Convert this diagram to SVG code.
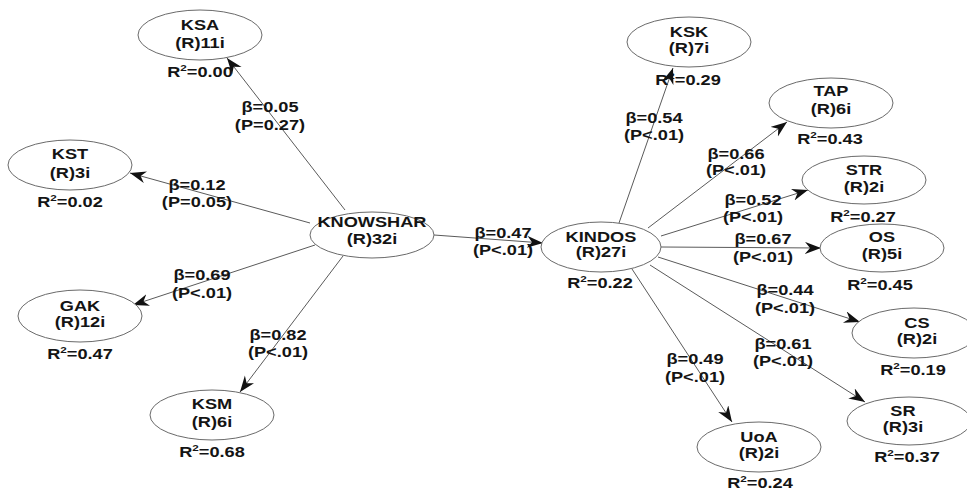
<svg xmlns="http://www.w3.org/2000/svg" width="967" height="492" viewBox="0 0 967 492">
<style>
  .bg { fill: #ffffff; }
  .node ellipse { fill: #ffffff; stroke: #6a6a6a; stroke-width: 1; }
  text { font-family: "Liberation Sans", Arial, sans-serif; font-weight: bold; font-size: 14px; fill: #141414; text-anchor: middle; transform-box: fill-box; transform-origin: center; transform: scaleX(1.3); }
  .sup { font-size: 9px; }
  #connectors line { stroke: #5a5a5a; stroke-width: 1; marker-end: url(#arr); }
</style>
<defs>
  <marker id="arr" markerUnits="userSpaceOnUse" markerWidth="18" markerHeight="14" refX="16" refY="6" orient="auto">
    <path d="M0,0 L16,6 L0,12 L5,6 z" fill="#111111"/>
  </marker>
</defs>
<rect class="bg" x="0" y="0" width="967" height="492"/>

<g id="connectors">
  <line x1="345" y1="210" x2="227" y2="58"/>
  <line x1="310" y1="223" x2="130" y2="173"/>
  <line x1="315" y1="245" x2="133" y2="305"/>
  <line x1="343" y1="256" x2="240" y2="392"/>
  <line x1="434" y1="235" x2="543" y2="243"/>
  <line x1="619" y1="223" x2="673" y2="68"/>
  <line x1="648" y1="228" x2="787" y2="122"/>
  <line x1="661" y1="236" x2="808" y2="190"/>
  <line x1="661" y1="247" x2="821" y2="248"/>
  <line x1="658" y1="257" x2="860" y2="322"/>
  <line x1="650" y1="265" x2="865" y2="402"/>
  <line x1="632" y1="269" x2="732" y2="422"/>
</g>

<g id="edge-labels">
  <text x="270" y="112">β=0.05</text><text x="270" y="130">(P=0.27)</text>
  <text x="197" y="190">β=0.12</text><text x="197" y="207">(P=0.05)</text>
  <text x="202" y="280">β=0.69</text><text x="202" y="298">(P&lt;.01)</text>
  <text x="278" y="340">β=0.82</text><text x="278" y="357">(P&lt;.01)</text>
  <text x="503" y="238">β=0.47</text><text x="503" y="255">(P&lt;.01)</text>
  <text x="654" y="123">β=0.54</text><text x="654" y="140">(P&lt;.01)</text>
  <text x="736" y="159">β=0.66</text><text x="736" y="175">(P&lt;.01)</text>
  <text x="753" y="205">β=0.52</text><text x="753" y="222">(P&lt;.01)</text>
  <text x="763" y="244">β=0.67</text><text x="763" y="262">(P&lt;.01)</text>
  <text x="785" y="295">β=0.44</text><text x="785" y="313">(P&lt;.01)</text>
  <text x="783" y="349">β=0.61</text><text x="783" y="366">(P&lt;.01)</text>
  <text x="695" y="364">β=0.49</text><text x="695" y="382">(P&lt;.01)</text>
</g>

<g id="KSA" class="node">
  <ellipse cx="200" cy="35" rx="62" ry="25"/>
  <text x="200" y="30">KSA</text><text x="200" y="48">(R)11i</text>
  <text x="200" y="77">R<tspan class="sup" dy="-6">2</tspan><tspan dy="6">=0.00</tspan></text>
</g>
<g id="KST" class="node">
  <ellipse cx="70" cy="165" rx="62" ry="25"/>
  <text x="70" y="159">KST</text><text x="70" y="178">(R)3i</text>
  <text x="70" y="207">R<tspan class="sup" dy="-6">2</tspan><tspan dy="6">=0.02</tspan></text>
</g>
<g id="KNOWSHAR" class="node">
  <ellipse cx="372" cy="235" rx="62" ry="23"/>
  <text x="372" y="227">KNOWSHAR</text><text x="372" y="244">(R)32i</text>
</g>
<g id="GAK" class="node">
  <ellipse cx="80" cy="316" rx="62" ry="26"/>
  <text x="80" y="311">GAK</text><text x="80" y="327">(R)12i</text>
  <text x="80" y="359">R<tspan class="sup" dy="-6">2</tspan><tspan dy="6">=0.47</tspan></text>
</g>
<g id="KSM" class="node">
  <ellipse cx="212" cy="415" rx="62" ry="25"/>
  <text x="212" y="409">KSM</text><text x="212" y="427">(R)6i</text>
  <text x="212" y="457">R<tspan class="sup" dy="-6">2</tspan><tspan dy="6">=0.68</tspan></text>
</g>
<g id="KINDOS" class="node">
  <ellipse cx="601" cy="247" rx="60" ry="25"/>
  <text x="601" y="242">KINDOS</text><text x="601" y="257">(R)27i</text>
  <text x="600" y="288">R<tspan class="sup" dy="-6">2</tspan><tspan dy="6">=0.22</tspan></text>
</g>
<g id="KSK" class="node">
  <ellipse cx="689" cy="42" rx="62" ry="25"/>
  <text x="689" y="37">KSK</text><text x="689" y="53">(R)7i</text>
  <text x="688" y="85">R<tspan class="sup" dy="-6">2</tspan><tspan dy="6">=0.29</tspan></text>
</g>
<g id="TAP" class="node">
  <ellipse cx="831" cy="103" rx="62" ry="25"/>
  <text x="831" y="96">TAP</text><text x="831" y="114">(R)6i</text>
  <text x="830" y="144">R<tspan class="sup" dy="-6">2</tspan><tspan dy="6">=0.43</tspan></text>
</g>
<g id="STR" class="node">
  <ellipse cx="864" cy="180" rx="62" ry="24"/>
  <text x="864" y="175">STR</text><text x="864" y="192">(R)2i</text>
  <text x="863" y="222">R<tspan class="sup" dy="-6">2</tspan><tspan dy="6">=0.27</tspan></text>
</g>
<g id="OS" class="node">
  <ellipse cx="882" cy="248" rx="62" ry="24"/>
  <text x="882" y="242">OS</text><text x="882" y="259">(R)5i</text>
  <text x="880" y="290">R<tspan class="sup" dy="-6">2</tspan><tspan dy="6">=0.45</tspan></text>
</g>
<g id="CS" class="node">
  <ellipse cx="914" cy="333" rx="62" ry="25"/>
  <text x="917" y="328">CS</text><text x="917" y="344">(R)2i</text>
  <text x="913" y="375">R<tspan class="sup" dy="-6">2</tspan><tspan dy="6">=0.19</tspan></text>
</g>
<g id="SR" class="node">
  <ellipse cx="909" cy="421" rx="62" ry="24"/>
  <text x="903" y="416">SR</text><text x="903" y="432">(R)3i</text>
  <text x="907" y="462">R<tspan class="sup" dy="-6">2</tspan><tspan dy="6">=0.37</tspan></text>
</g>
<g id="UoA" class="node">
  <ellipse cx="759" cy="447" rx="62" ry="25"/>
  <text x="759" y="442">UoA</text><text x="759" y="458">(R)2i</text>
  <text x="760" y="488">R<tspan class="sup" dy="-6">2</tspan><tspan dy="6">=0.24</tspan></text>
</g>
</svg>
